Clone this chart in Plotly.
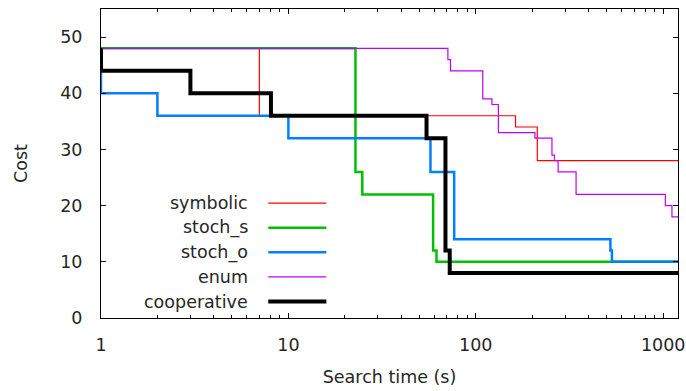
import math
import plotly.graph_objects as go

# ---- data (step curves: cost holds from each time until the next) ----
series_names = ["symbolic", "stoch_s", "stoch_o", "enum", "cooperative"]

symbolic_t = [1, 7, 163, 213, 1200]
symbolic_c = [48, 36, 34, 28, 28]

stoch_s_t = [1, 22.8, 24.8, 59.2, 61.7, 1200]
stoch_s_c = [48, 26, 22, 12, 10, 10]

stoch_o_t = [1, 1, 2, 10, 57.3, 76.7, 523, 533, 1200]
stoch_o_c = [44, 40, 36, 32, 26, 14, 12, 10, 10]

enum_t = [1, 71, 73.3, 109, 122, 132, 207, 255, 263, 275, 343, 1027, 1114, 1200]
enum_c = [48, 46, 44, 39, 38, 33, 32, 29, 28, 26, 22, 20, 18, 18]

coop_t = [1, 1, 3, 8.07, 54.6, 68.9, 72.6, 1200]
coop_c = [48, 44, 40, 36, 32, 12, 8, 8]

x_tickvals = [1, 10, 100, 1000]
x_ticktext = ["1", "10", "100", "1000"]
x_minor = [m * d for d in (1, 10, 100) for m in range(2, 10)]
y_tickvals = [0, 10, 20, 30, 40, 50]

# ---- styles ----
colors = ["#ff0000", "#00c000", "#0080ff", "#c000ff", "#000000"]
widths = [1.2, 2.5, 2.5, 1.2, 4]
FONT = "DejaVu Sans"
TXT = "#262626"
FS = 17.5

data = [
    (symbolic_t, symbolic_c),
    (stoch_s_t, stoch_s_c),
    (stoch_o_t, stoch_o_c),
    (enum_t, enum_c),
    (coop_t, coop_c),
]

fig = go.Figure()
for name, (t, c), col, w in zip(series_names, data, colors, widths):
    fig.add_trace(go.Scatter(
        x=t, y=c, mode="lines", name=name,
        line=dict(color=col, width=w, shape="hv"),
        showlegend=False,
    ))

# ---- manual gnuplot-style legend: right-aligned text, sample line after ----
leg_text_x = 0.2587
leg_line_x0, leg_line_x1 = 0.2899, 0.3906
leg_y0 = 0.372
leg_dy = 0.0797
for i, (name, col, w) in enumerate(zip(series_names, colors, widths)):
    yy = leg_y0 - i * leg_dy
    fig.add_annotation(
        x=leg_text_x, y=yy, xref="paper", yref="paper",
        text=name, showarrow=False, xanchor="right", yanchor="middle",
        font=dict(family=FONT, size=FS, color=TXT),
    )
    fig.add_shape(
        type="line", xref="paper", yref="paper",
        x0=leg_line_x0, x1=leg_line_x1, y0=yy, y1=yy,
        line=dict(color=col, width=w),
    )

axis_common = dict(
    showline=True, linecolor="black", linewidth=1, mirror="allticks",
    ticks="inside", tickcolor="black", tickwidth=1,
    showgrid=False, zeroline=False, automargin=False,
    tickfont=dict(family=FONT, size=FS, color=TXT),
)

fig.update_xaxes(
    type="log", range=[0, math.log10(1200)],
    tickvals=x_tickvals, ticktext=x_ticktext, ticklen=5,
    minor=dict(ticks="inside", ticklen=3, tickvals=x_minor, tickcolor="black", showgrid=False),
    ticklabelstandoff=11,
    title=dict(text="Search time (s)", font=dict(family=FONT, size=FS, color=TXT), standoff=16),
    **axis_common,
)
fig.update_yaxes(
    range=[0, 55], tickvals=y_tickvals, ticklen=5,
    ticklabelstandoff=14,
    title=dict(text="Cost", font=dict(family=FONT, size=FS, color=TXT), standoff=28),
    **axis_common,
)

fig.update_layout(
    width=686, height=391,
    margin=dict(l=101, r=8, t=9, b=73),
    plot_bgcolor="white", paper_bgcolor="white",
    font=dict(family=FONT, size=FS, color=TXT),
)

fig.write_html(
    "out.html",
    config={"displayModeBar": False},
    post_script="document.body.style.margin='0';",
)
